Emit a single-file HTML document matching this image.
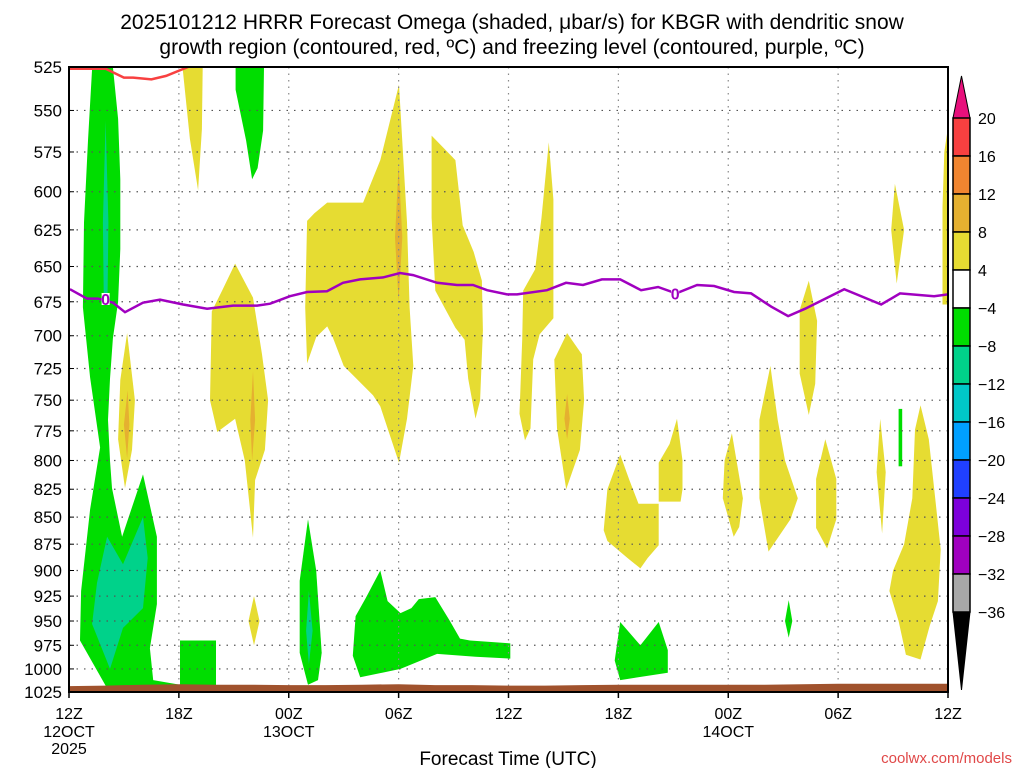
<!DOCTYPE html>
<html><head><meta charset="utf-8"><style>
body{margin:0;background:#fff;width:1024px;height:768px;overflow:hidden;font-family:"Liberation Sans",sans-serif}
svg{display:block}
</style></head><body>
<svg id="chart" width="1024" height="768" xmlns="http://www.w3.org/2000/svg">
<text x="512" y="29" text-anchor="middle" font-size="21" font-family="Liberation Sans, sans-serif">2025101212 HRRR Forecast Omega (shaded, μbar/s) for KBGR with dendritic snow</text>
<text x="512" y="54" text-anchor="middle" font-size="21" font-family="Liberation Sans, sans-serif">growth region (contoured, red, ºC) and freezing level (contoured, purple, ºC)</text>
<g id="shades"></g>
<g id="grid"></g>
<g id="lines"></g>
<g id="axes"></g>
<g id="cbar"></g>
<text x="508" y="765" text-anchor="middle" font-size="19">Forecast Time (UTC)</text>
<text x="1012" y="763" text-anchor="end" font-size="15" fill="#e04848">coolwx.com/models</text>
</svg>
<script>
const pTicks=[525,550,575,600,625,650,675,700,725,750,775,800,825,850,875,900,925,950,975,1000,1025];
const tHours=[0,6,12,18,24,30,36,42,48];
const tLabels=["12Z","18Z","00Z","06Z","12Z","18Z","00Z","06Z","12Z"];
const tSub=["12OCT","","13OCT","","","","14OCT","",""];
const cbLevels=[20,16,12,8,4,-4,-8,-12,-16,-20,-24,-28,-32,-36];
const cbColors=["#f84040","#f08530","#e5b030","#e6dc32","#ffffff","#00dd00","#00d28a","#00c8c8","#00a0ff","#2040ff","#7d00dc","#a000c0","#a8a8a8"];
// freezing level (hour, hPa)
const frzHours=[0.05,0.98,1.58,2.4,3.06,4.04,4.97,6.23,7.54,8.96,10.27,10.98,12.07,13,14.09,14.96,15.89,17.15,18.08,18.79,20.1,21.19,22.06,22.83,23.92,24.47,26.1,27.14,28.07,29.1,30.1,31.24,32.17,33.15,34.3,35.23,36.32,37.25,38.34,39.27,40.2,42.33,44.35,45.38,47.24,48];
const frzP=[666,672.7,672.7,675.7,682.6,675.7,673.5,677,680,677.8,677.8,676.4,671,668,667.4,661.4,659,657.6,654.5,656,661.4,663,663,666.7,669.7,669.7,666.7,661.4,663,659,659,666.7,664.4,669,663,663.7,668,669,678.5,685.4,680,666,677,669,671,669.7];
// dendritic growth region (red)
const dgzHours=[0,2,3,3.5,4.5,5.3,6.5];
const dgzP=[526,526,531,531,532,530,525];
// surface pressure
const sfcHours=[0,2,4,6,8,10,12,14,16,18,20,22,24,26,28,30,32,34,36,38,40,42,44,46,48];
const sfcP=[1018.5,1018,1017,1016.5,1017,1017,1017.5,1017.5,1017,1016.5,1017.5,1017.5,1018,1018,1017.5,1017,1017,1017,1017,1017,1016.5,1016,1016,1016,1016];
// shaded regions: [color, [[hour,hPa],...]]
const Y4="#e6dc32",O8="#e5b030",G="#00dd00",T="#00d28a";
const regions=[
[G,[[1.26,526],[2.4,525],[2.68,555],[2.8,592],[2.8,638],[2.68,675],[2.4,702],[2.24,733],[2.13,766],[2.24,800],[2.35,824],[2.9,868],[4.04,812],[4.8,868],[4.8,933],[4.42,978],[4.6,1012],[6.06,1017],[6.06,1021],[2.08,1021],[0.6,970],[0.66,920],[1.15,843],[1.7,789],[1.15,732],[0.76,679],[0.82,620],[1.04,568]]],
[G,[[6.06,970],[8.03,970],[8.03,1019],[6.06,1019]]],
[T,[[2.0,556],[2.15,620],[2.1,675],[1.9,675],[1.85,620]]],
[T,[[2.08,868],[2.95,894],[4.04,850],[4.3,888],[4.04,937],[2.95,957],[2.24,1000],[1.26,953],[1.53,912]]],
[Y4,[[6.2,525],[7.3,525],[7.26,561],[7.05,599],[6.6,567]]],
[G,[[9.1,525],[10.65,525],[10.6,562],[10.3,585],[10.0,592],[9.67,568],[9.1,538]]],
[Y4,[[3.17,698],[3.6,750],[3.44,791],[3.06,824],[2.68,782],[2.8,734]]],
[O8,[[3.2,742],[3.3,770],[3.17,798],[3.0,770]]],
[Y4,[[9.07,648],[10.05,672],[10.54,714],[10.87,750],[10.7,791],[10.16,817],[10.05,869],[9.6,800],[9.07,765],[8.1,776],[7.7,750],[7.8,682],[8.36,667]]],
[O8,[[10.05,727],[10.16,766],[10,800],[9.9,766]]],
[Y4,[[10.1,925],[10.4,950],[10.1,975],[9.8,950]]],
[G,[[13.05,852],[13.5,900],[13.8,983],[13.6,1012],[13.05,1017],[12.6,983],[12.6,910]]],
[T,[[13.1,920],[13.3,960],[13.1,995],[12.95,960]]],
[Y4,[[13,619],[13.4,614],[14.1,607],[16.06,607],[17,580],[18.02,535],[18.46,620],[18.6,679],[18.8,723],[18.46,765],[18.02,802],[17,755],[16.6,746],[15,723],[14.4,701],[14.1,693],[13.5,701],[13,721],[12.9,679]]],
[O8,[[18,583],[18.2,630],[18,675],[17.8,630]]],
[Y4,[[19.8,565],[20.5,573],[21.1,580],[21.5,622],[22.1,640],[22.55,660],[22.6,696],[22.45,750],[22.2,765],[21.8,733],[21.6,703],[21.1,694],[20,667],[19.8,617]]],
[G,[[15.5,986],[15.65,945],[16.2,927],[17,900],[17.4,930],[18.1,942],[18.7,937],[19.1,928],[20,926],[20.8,950],[21.35,968],[21.9,970],[24.1,973],[24.1,989],[22.2,987],[20.1,984],[18.1,1000],[15.9,1009]]],
[Y4,[[26.2,569],[26.45,605],[26.45,687],[25.7,699],[25.35,718],[25.2,773],[24.9,783],[24.6,761],[24.75,703],[24.8,667],[25.45,652],[25.8,617]]],
[Y4,[[27.2,698],[28,714],[28.13,750],[27.9,791],[27.15,825],[26.65,773],[26.5,718]]],
[O8,[[27.2,745],[27.35,765],[27.2,782],[27.05,765]]],
[Y4,[[30.1,795],[30.6,817],[31.1,838],[32.2,838],[32.2,876],[31.6,888],[31.2,898],[30.5,888],[29.4,872],[29.2,862],[29.4,825]]],
[Y4,[[33.2,765],[33.5,800],[33.5,825],[33.4,836],[32.2,836],[32.2,802],[32.8,786]]],
[G,[[30.1,951],[31.2,975],[32.2,951],[32.7,980],[32.7,1004],[30.1,1012],[29.8,991]]],
[Y4,[[36.2,777],[36.8,833],[36.6,859],[36.3,868],[35.7,833],[35.8,800]]],
[Y4,[[38.3,723],[38.7,766],[39.1,800],[39.8,833],[39.4,852],[38.2,882],[37.7,833],[37.7,766]]],
[Y4,[[40.4,660],[40.85,689],[40.75,737],[40.4,762],[39.9,729],[39.9,681]]],
[G,[[39.3,929],[39.5,950],[39.3,967],[39.1,950]]],
[Y4,[[41.3,782],[41.9,816],[41.9,852],[41.4,879],[40.8,860],[40.8,816]]],
[Y4,[[44.3,765],[44.6,810],[44.4,865],[44.1,810]]],
[G,[[45.3,757],[45.5,757],[45.5,805],[45.3,805]]],
[Y4,[[45.1,595],[45.6,625],[45.2,662],[44.9,625]]],
[Y4,[[46.5,754],[46.95,782],[47.3,833],[47.6,880],[47.45,930],[47,955],[46.5,990],[45.7,985],[45.3,950],[44.8,920],[45,900],[45.6,875],[46.05,833],[46.2,774]]],
[Y4,[[47.8,575],[48,560],[48,677],[47.7,677],[47.7,610]]]
];
const L=69,R=948,TOP=67,BOT=692;
const X=h=>L+h*(R-L)/48;
const Y=p=>TOP+Math.log(p/525)/Math.log(1025/525)*(BOT-TOP);
const NS="http://www.w3.org/2000/svg";
function mk(tag,attrs,parent){const e=document.createElementNS(NS,tag);for(const k in attrs)e.setAttribute(k,attrs[k]);parent.appendChild(e);return e;}
const shades=document.getElementById('shades'),grid=document.getElementById('grid'),lines=document.getElementById('lines'),axes=document.getElementById('axes'),cbar=document.getElementById('cbar');
regions.forEach((r,i)=>{
 const pts=r[1].map(q=>X(q[0]).toFixed(1)+","+Y(q[1]).toFixed(1)).join(" ");
 const e=mk('polygon',{points:pts,fill:r[0]},shades);
 
 
});
// grid
pTicks.forEach(p=>{
 if(p>525&&p<1025){const l=mk('line',{x1:L,x2:R,y1:Y(p),y2:Y(p),stroke:"#555","stroke-width":1.2,"stroke-dasharray":"1.5,6"},grid);
 
 }
 const t=mk('text',{x:62,y:Y(p)+6,"text-anchor":"end","font-size":17},axes);t.textContent=p;
 
 
 mk('line',{x1:L,x2:L+5,y1:Y(p),y2:Y(p),stroke:"#000","stroke-width":1},axes);
});
tHours.forEach((h,i)=>{
 if(h>0&&h<48){const l=mk('line',{x1:X(h),x2:X(h),y1:TOP,y2:BOT,stroke:"#888","stroke-width":1.2,"stroke-dasharray":"1.5,5"},grid);
 
 }
 mk('line',{x1:X(h),x2:X(h),y1:BOT,y2:BOT+6,stroke:"#000","stroke-width":1.5},axes);
 const t=mk('text',{x:X(h),y:719,"text-anchor":"middle","font-size":16},axes);t.textContent=tLabels[i];
 
 
 if(tSub[i]){const s=mk('text',{x:X(h),y:737,"text-anchor":"middle","font-size":16},axes);s.textContent=tSub[i];
 
 }
});
{const y=mk('text',{x:X(0),y:754,"text-anchor":"middle","font-size":16},axes);y.textContent="2025";
 
 }
// ground
{let d="M"+X(sfcHours[0])+","+Y(1025);sfcHours.forEach((h,i)=>{d+=" L"+X(h).toFixed(1)+","+Y(sfcP[i]).toFixed(1);});d+=" L"+X(48)+","+Y(1025)+" Z";
 const g=mk('path',{d:d,fill:"#a0522d"},lines);
 
 }
// freezing level
{const pts=frzHours.map((h,i)=>X(h).toFixed(1)+","+Y(frzP[i]).toFixed(1)).join(" ");
 const f=mk('polyline',{points:pts,fill:"none",stroke:"#a000c0","stroke-width":2.5},lines);
 
 
 [[2.0,673],[33.1,669]].forEach((q,i)=>{
 mk('rect',{x:X(q[0])-4,y:Y(q[1])-6,width:8,height:12,fill:"#fff"},lines);
 const t=mk('text',{x:X(q[0]),y:Y(q[1])+6,"text-anchor":"middle","font-size":16,"font-weight":"bold",fill:"#a000c0"},lines);t.textContent="0";
 
 });}
{const pts=dgzHours.map((h,i)=>X(h).toFixed(1)+","+Y(dgzP[i]).toFixed(1)).join(" ");
 const d=mk('polyline',{points:pts,fill:"none",stroke:"#f84040","stroke-width":2.5},lines);
 
 }
// frame
{const f=mk('rect',{x:L,y:TOP,width:R-L,height:BOT-TOP,fill:"none",stroke:"#000","stroke-width":2},axes);
 
 }
// colorbar
const cx=953,cw=17,cTop=118,step=38;
{const t=mk('polygon',{points:`${cx},${cTop} ${cx+cw},${cTop} ${cx+cw/2},76`,fill:"#e8107c",stroke:"#000","stroke-width":1},cbar);
 
 
 const yb=cTop+step*(cbLevels.length-1);
 const b=mk('polygon',{points:`${cx},${yb} ${cx+cw},${yb} ${cx+cw/2},690`,fill:"#000",stroke:"#000","stroke-width":1},cbar);
 
 }
cbColors.forEach((c,i)=>{const r=mk('rect',{x:cx,y:cTop+i*step,width:cw,height:step,fill:c,stroke:"#000","stroke-width":1.5},cbar);
 
 });
cbLevels.forEach((v,i)=>{const t=mk('text',{x:978,y:cTop+i*step+6,"font-size":16},cbar);t.textContent=v<0?"−"+(-v):String(v);
 
 });
</script>
</body></html>
